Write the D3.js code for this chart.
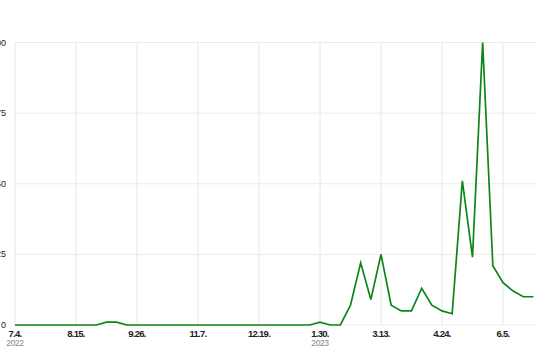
<!DOCTYPE html>
<html>
<head>
<meta charset="utf-8">
<script src="https://cdn.jsdelivr.net/npm/d3@7"></script>
<style>
  body { margin: 0; background: #fff; }
  text { font-family: "Liberation Sans Narrow", "Arial Narrow", "Liberation Sans", sans-serif; }
</style>
</head>
<body>
<div id="container"></div>
<script>
let w = 537;
let h = 360;

// weekly interest values starting week of 2022-07-04
let startDate = "2022-07-04";
let values = [0,0,0,0,0,0,0,0,0,1,1,0,0,0,0,0,0,0,0,0,
              0,0,0,0,0,0,0,0,0,0,1,0,0,7,22,9,25,7,5,5,
              13,7,5,4,51,24,100,21,15,12,10,10];
let yTicks = [0, 25, 50, 75, 100];
let yearLabels = [{date: "2022-07-04", label: "2022"}, {date: "2023-01-30", label: "2023"}];

let parse = d3.timeParse("%Y-%m-%d");
let start = parse(startDate);
let data = values.map(function(v, i){
  return {date: d3.timeWeek.offset(start, i), value: v};
});
let xTicks = d3.range(0, 9).map(function(i){ return d3.timeDay.offset(start, i * 42); });

let viz = d3.select("#container").append("svg")
    .attr("width", w)
    .attr("height", h);

let xScale = d3.scaleTime()
    .domain([data[0].date, data[data.length - 1].date])
    .range([15, 533.5]);
let yScale = d3.scaleLinear().domain([0, 100]).range([325, 42.5]);

// horizontal grid
viz.selectAll(".hgrid").data(yTicks).enter()
  .append("line")
    .attr("x1", 15)
    .attr("x2", w)
    .attr("y1", function(d){ return yScale(d); })
    .attr("y2", function(d){ return yScale(d); })
    .attr("stroke", "#ebebeb")
    .attr("stroke-width", 1);

// vertical grid
viz.selectAll(".vgrid").data(xTicks).enter()
  .append("line")
    .attr("x1", function(d){ return xScale(d); })
    .attr("x2", function(d){ return xScale(d); })
    .attr("y1", yScale(100))
    .attr("y2", yScale(0))
    .attr("stroke", "#e6e6e6")
    .attr("stroke-width", 1);

// y labels (partly cut at the left edge, as in the source)
viz.selectAll(".ylab").data(yTicks).enter()
  .append("text")
    .attr("x", 6)
    .attr("y", function(d){ return yScale(d) + 3; })
    .attr("text-anchor", "end")
    .attr("font-size", 9)
    .attr("fill", "#222")
    .text(function(d){ return d; });

// x labels
let fmt = d3.timeFormat("%-m.%-d.");
viz.selectAll(".xlab").data(xTicks).enter()
  .append("text")
    .attr("x", function(d){ return xScale(d); })
    .attr("y", 337)
    .attr("text-anchor", "middle")
    .attr("font-size", 9.5)
    .attr("font-weight", "bold")
    .attr("letter-spacing", -0.7)
    .attr("fill", "#222")
    .text(function(d){ return fmt(d); });

viz.selectAll(".year").data(yearLabels).enter()
  .append("text")
    .attr("x", function(d){ return xScale(parse(d.date)); })
    .attr("y", 346)
    .attr("text-anchor", "middle")
    .attr("font-size", 8.5)
    .attr("letter-spacing", -0.4)
    .attr("fill", "#888")
    .text(function(d){ return d.label; });

// line
let lineMaker = d3.line()
    .x(function(d){ return xScale(d.date); })
    .y(function(d){ return yScale(d.value); });

viz.append("path")
    .datum(data)
    .attr("d", lineMaker)
    .attr("fill", "none")
    .attr("stroke", "#0c8519")
    .attr("stroke-width", 1.7)
    .attr("stroke-linejoin", "miter");
</script>
</body>
</html>
